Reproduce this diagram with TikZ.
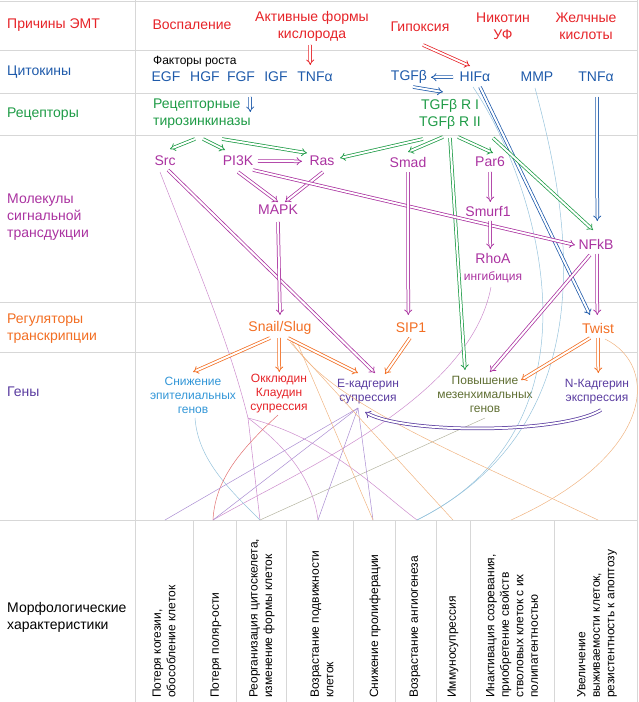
\documentclass[tikz,border=0pt]{standalone}
\usepackage{fontspec}
\setmainfont{Liberation Sans}
\usetikzlibrary{arrows.meta,calc,positioning}
\definecolor{cred}{RGB}{230,35,40}
\definecolor{cblue}{RGB}{30,90,170}
\definecolor{cgreen}{RGB}{30,155,70}
\definecolor{cmag}{RGB}{170,50,160}
\definecolor{corange}{RGB}{242,110,35}
\definecolor{cpurple}{RGB}{90,60,160}
\definecolor{clblue}{RGB}{50,150,215}
\definecolor{colive}{RGB}{95,110,50}
\definecolor{cgrid}{RGB}{215,215,215}
\definecolor{tblue}{RGB}{150,195,220}
\definecolor{tmag}{RGB}{205,140,205}
\definecolor{torange}{RGB}{240,180,130}
\definecolor{tpurple}{RGB}{170,140,210}
\definecolor{tred}{RGB}{225,110,110}
\definecolor{tolive}{RGB}{180,180,160}
\begin{document}
\begin{tikzpicture}[x=1pt, y=-1pt,
  big/.style={font=\fontsize{14}{17}\selectfont, inner sep=1pt, align=center},
  lft/.style={big, anchor=west, align=left},
  mid/.style={font=\fontsize{12}{14}\selectfont, inner sep=1pt, align=center},
  col/.style={font=\fontsize{12}{14.5}\selectfont, rotate=90, anchor=west, align=left, inner sep=0pt},
  dbl/.style={draw=#1, double=white, double distance=2pt, line width=0.75pt, -{Implies}},
  fine/.style={draw=#1, line width=0.5pt}]
\useasboundingbox (0,0) rectangle (638,702);

% table
\foreach \y in {1,50,93,135,302,352,520}
  \draw[cgrid] (0,\y) -- (638,\y);
\draw[cgrid] (135,0) -- (135,702);
\draw[cgrid] (637,0) -- (637,702);
\foreach \x in {193,236,286,353,395,436,470,554}
  \draw[cgrid] (\x,520) -- (\x,702);

% row labels
\node[lft, text=cred] (causes) at (6,25) {Причины ЭМТ};
\node[lft, text=cblue] (cyt) at (6,72) {Цитокины};
\node[lft, text=cgreen] (rec) at (6,114) {Рецепторы};
\node[lft, text=cmag] (sig) at (6,217) {Молекулы\\сигнальной\\трансдукции};
\node[lft, text=corange] (reg) at (6,329) {Регуляторы\\транскрипции};
\node[lft, text=cpurple] (genes) at (6,392) {Гены};
\node[lft] (morph) at (6,617) {Морфологические\\характеристики};

% causes
\node[big, text=cred] (infl) at (192,25) {Воспаление};
\node[big, text=cred] (ros) at (312,26) {Активные формы\\кислорода};
\node[big, text=cred] (hyp) at (420,27) {Гипоксия};
\node[big, text=cred] (nic) at (503,26) {Никотин\\УФ};
\node[big, text=cred] (bile) at (586,26) {Желчные\\кислоты};

% cytokines
\node[font=\fontsize{12}{14}\selectfont, anchor=west, inner sep=1pt] (gf) at (152,62) {Факторы роста};
\node[big, text=cblue] (egf) at (166,77) {EGF};
\node[big, text=cblue] (hgf) at (205,77) {HGF};
\node[big, text=cblue] (fgf) at (241,77) {FGF};
\node[big, text=cblue] (igf) at (276,77) {IGF};
\node[big, text=cblue] (tnfl) at (315,77) {TNFα};
\node[big, text=cblue] (tgfb) at (409,77) {TGFβ};
\node[big, text=cblue] (hif) at (475,77) {HIFα};
\node[big, text=cblue] (mmp) at (537,77) {MMP};
\node[big, text=cblue] (tnfr) at (596,77) {TNFα};

% receptors
\node[lft, text=cgreen] (rtk) at (152,114) {Рецепторные\\тирозинкиназы};
\node[big, text=cgreen] (tgfbr) at (450,114) {TGFβ R I\\TGFβ R II};

% signalling
\node[big, text=cmag] (src) at (165,161) {Src};
\node[big, text=cmag] (pi3k) at (238,161) {PI3K};
\node[big, text=cmag] (ras) at (322,161) {Ras};
\node[big, text=cmag] (smad) at (408,162) {Smad};
\node[big, text=cmag] (par6) at (490,162) {Par6};
\node[big, text=cmag] (mapk) at (278,210) {MAPK};
\node[big, text=cmag] (smurf) at (488,211) {Smurf1};
\node[big, text=cmag] (rhoa) at (493,258) {RhoA};
\node[mid, text=cmag] (inh) at (493,277) {ингибиция};
\node[big, text=cmag] (nfkb) at (596,244) {NFkB};

% regulators
\node[big, text=corange] (snail) at (280,328) {Snail/Slug};
\node[big, text=corange] (sip1) at (411,328) {SIP1};
\node[big, text=corange] (twist) at (598,328) {Twist};

% genes
\node[mid, text=clblue] (epi) at (193,395) {Снижение\\эпителиальных\\генов};
\node[mid, text=cred] (occ) at (279,394) {Окклюдин\\Клаудин\\супрессия};
\node[mid, text=cpurple] (ecad) at (368,392) {Е-кадгерин\\супрессия};
\node[mid, text=colive] (mes) at (485,394) {Повышение\\мезенхимальных\\генов};
\node[mid, text=cpurple] (ncad) at (597,392) {N-Кадгерин\\экспрессия};

% morphology
\node[col] (m1) at (164,698) {Потеря когезии,\\обособление клеток};
\node[col] (m2) at (216,698) {Потеря поляр-ости};
\node[col] (m3) at (262,698) {Реорганизация цитоскелета,\\изменение формы клеток};
\node[col] (m4) at (322,698) {Возрастание подвижности\\клеток};
\node[col] (m5) at (375,698) {Снижение пролиферации};
\node[col] (m6) at (415,698) {Возрастание ангиогенеза};
\node[col] (m7) at (453,698) {Иммуносупрессия};
\node[col] (m8) at (512,698) {Инактивация созревания,\\приобретение свойств\\стволовых клеток с их\\полипатентностью};
\node[col] (m9) at (597,698) {Увеличение\\выживаемости клеток,\\резистентность к апоптозу};

\foreach \i/\x in {1/165,2/213,3/260,4/318,5/373,6/417,7/453,8/511,9/598}
  \coordinate (b\i) at (\x,520);
\coordinate (sv) at (248,418);

% thin links to the morphology row
\draw[fine=tmag] ($(src)+(-5,11)$) .. controls +(35,90) and +(-20,-80) .. (sv);
\draw[fine=tmag] (sv) -- (b3);
\draw[fine=tmag] (sv) .. controls +(40,30) and +(-5,-40) .. (b4);
\draw[fine=tmag] (sv) .. controls +(80,20) and +(-40,-30) .. (b6);
\draw[fine=tmag] ($(inh)+(-2,10)$) .. controls +(-21,112) and +(87,-50) .. (b2);
\draw[fine=tblue] ($(epi)+(2,23)$) .. controls +(3,42) and +(-30,-30) .. (b3);
\draw[fine=tred] ($(occ)+(-1,21)$) .. controls +(-38,35) and +(2,-40) .. (b2);
\draw[fine=tolive] ($(mes)+(0,24)$) -- (b3);
\foreach \b in {b1,b2,b4,b5}
  \draw[fine=tpurple] ($(ecad)+(-10,16)$) -- (\b);
\draw[fine=tblue] ($(hif)+(-2,10)$) .. controls (530,170) and (620,420) .. (b6);
\draw[fine=tblue] ($(mmp)+(-2,11)$) .. controls (565,200) and (615,420) .. (b6);
\draw[fine=torange] ($(twist)+(7,11)$) .. controls +(55,27) and +(144,-65) .. (b8);
\draw[fine=torange] ($(snail)+(17,14)$) -- (b5);
\draw[fine=torange] ($(snail)+(10,14)$) -- (b7);
\draw[fine=torange] ($(snail)+(12,14)$) .. controls +(38,60) and +(-148,-70) .. (b9);

% causes and cytokines
\draw[dbl=cred] ($(ros)+(-2,19)$) -- ($(tnfl)+(-4.7,-12)$);
\draw[dbl=cred] ($(hyp)+(3,18)$) -- ($(hif)+(-5,-11)$);
\draw[dbl=cblue] ($(hif)+(-22,0)$) -- ($(tgfb)+(22,0.3)$);
\draw[dbl=cblue] ($(tgfb)+(4,10)$) -- ($(tgfbr)+(-7,-22)$);
\draw[dbl=cblue] ($(fgf)+(9,20)$) -- ($(rtk.west)+(98.3,-2)$);
\draw[dbl=cblue] ($(hif)+(5,10)$) -- ($(twist)+(-8,-13)$);
\draw[dbl=cblue] ($(tnfr)+(1,20)$) -- ($(nfkb)+(1.3,-23)$);

% receptors
\draw[dbl=cgreen] ($(rtk.west)+(43,25)$) -- ($(src)+(5,-12)$);
\draw[dbl=cgreen] ($(rtk.west)+(51,25)$) -- ($(pi3k)+(-13,-11)$);
\draw[dbl=cgreen] ($(rtk.west)+(70,25)$) -- ($(ras)+(-15,-8)$);
\draw[dbl=cgreen] ($(tgfbr)+(-27,25)$) -- ($(ras)+(18,-3)$);
\draw[dbl=cgreen] ($(tgfbr)+(-7,23)$) -- ($(smad)+(0,-10)$);
\draw[dbl=cgreen] ($(tgfbr)+(0,24)$) -- ($(mes)+(-20,-24)$);
\draw[dbl=cgreen] ($(tgfbr)+(8,23)$) -- ($(par6)+(3,-9)$);
\draw[dbl=cgreen] ($(tgfbr)+(43,24)$) -- ($(nfkb)+(-3,-14)$);

% signalling
\draw[dbl=cmag] ($(pi3k)+(20,0)$) -- ($(ras)+(-20,0.3)$);
\draw[dbl=cmag] ($(pi3k)+(0,11)$) -- ($(mapk)+(0,-8)$);
\draw[dbl=cmag] ($(ras)+(1,11)$) -- ($(mapk)+(7,-8)$);
\draw[dbl=cmag] ($(pi3k)+(15,9)$) -- ($(nfkb)+(-21,1)$);
\draw[dbl=cmag] ($(src)+(3,9)$) -- ($(ecad)+(7,-19)$);
\draw[dbl=cmag] ($(mapk)+(0,12)$) -- ($(snail)+(0,-13)$);
\draw[dbl=cmag] ($(smad)+(0,10)$) -- ($(sip1)+(-2.7,-13)$);
\draw[dbl=cmag] ($(par6)+(0,10)$) -- ($(smurf)+(2.3,-9)$);
\draw[dbl=cmag] ($(smurf)+(2,10)$) -- ($(rhoa)+(-2.7,-9)$);
\draw[dbl=cmag] ($(nfkb)+(1,10)$) -- ($(twist)+(-0.7,-13)$);
\draw[dbl=cmag] ($(nfkb)+(-6,11)$) -- ($(mes)+(5,-22)$);

% regulators
\draw[dbl=corange] ($(snail)+(-10,10)$) -- ($(epi)+(0,-23)$);
\draw[dbl=corange] ($(snail)+(-1,10)$) -- ($(occ)+(0.3,-22)$);
\draw[dbl=corange] ($(snail)+(8,10)$) -- ($(ecad)+(-10,-19)$);
\draw[dbl=corange] ($(sip1)+(-1,10)$) -- ($(ecad)+(17,-18)$);
\draw[dbl=corange] ($(twist)+(-8,10)$) -- ($(mes)+(36,-14)$);
\draw[dbl=corange] ($(twist)+(0,10)$) -- ($(ncad)+(1.3,-19)$);

% genes
\draw[dbl=cpurple] ($(ncad)+(4,18)$) .. controls +(-40,24) and +(40,22) .. ($(ecad)+(-3,20)$);
\end{tikzpicture}
\end{document}
